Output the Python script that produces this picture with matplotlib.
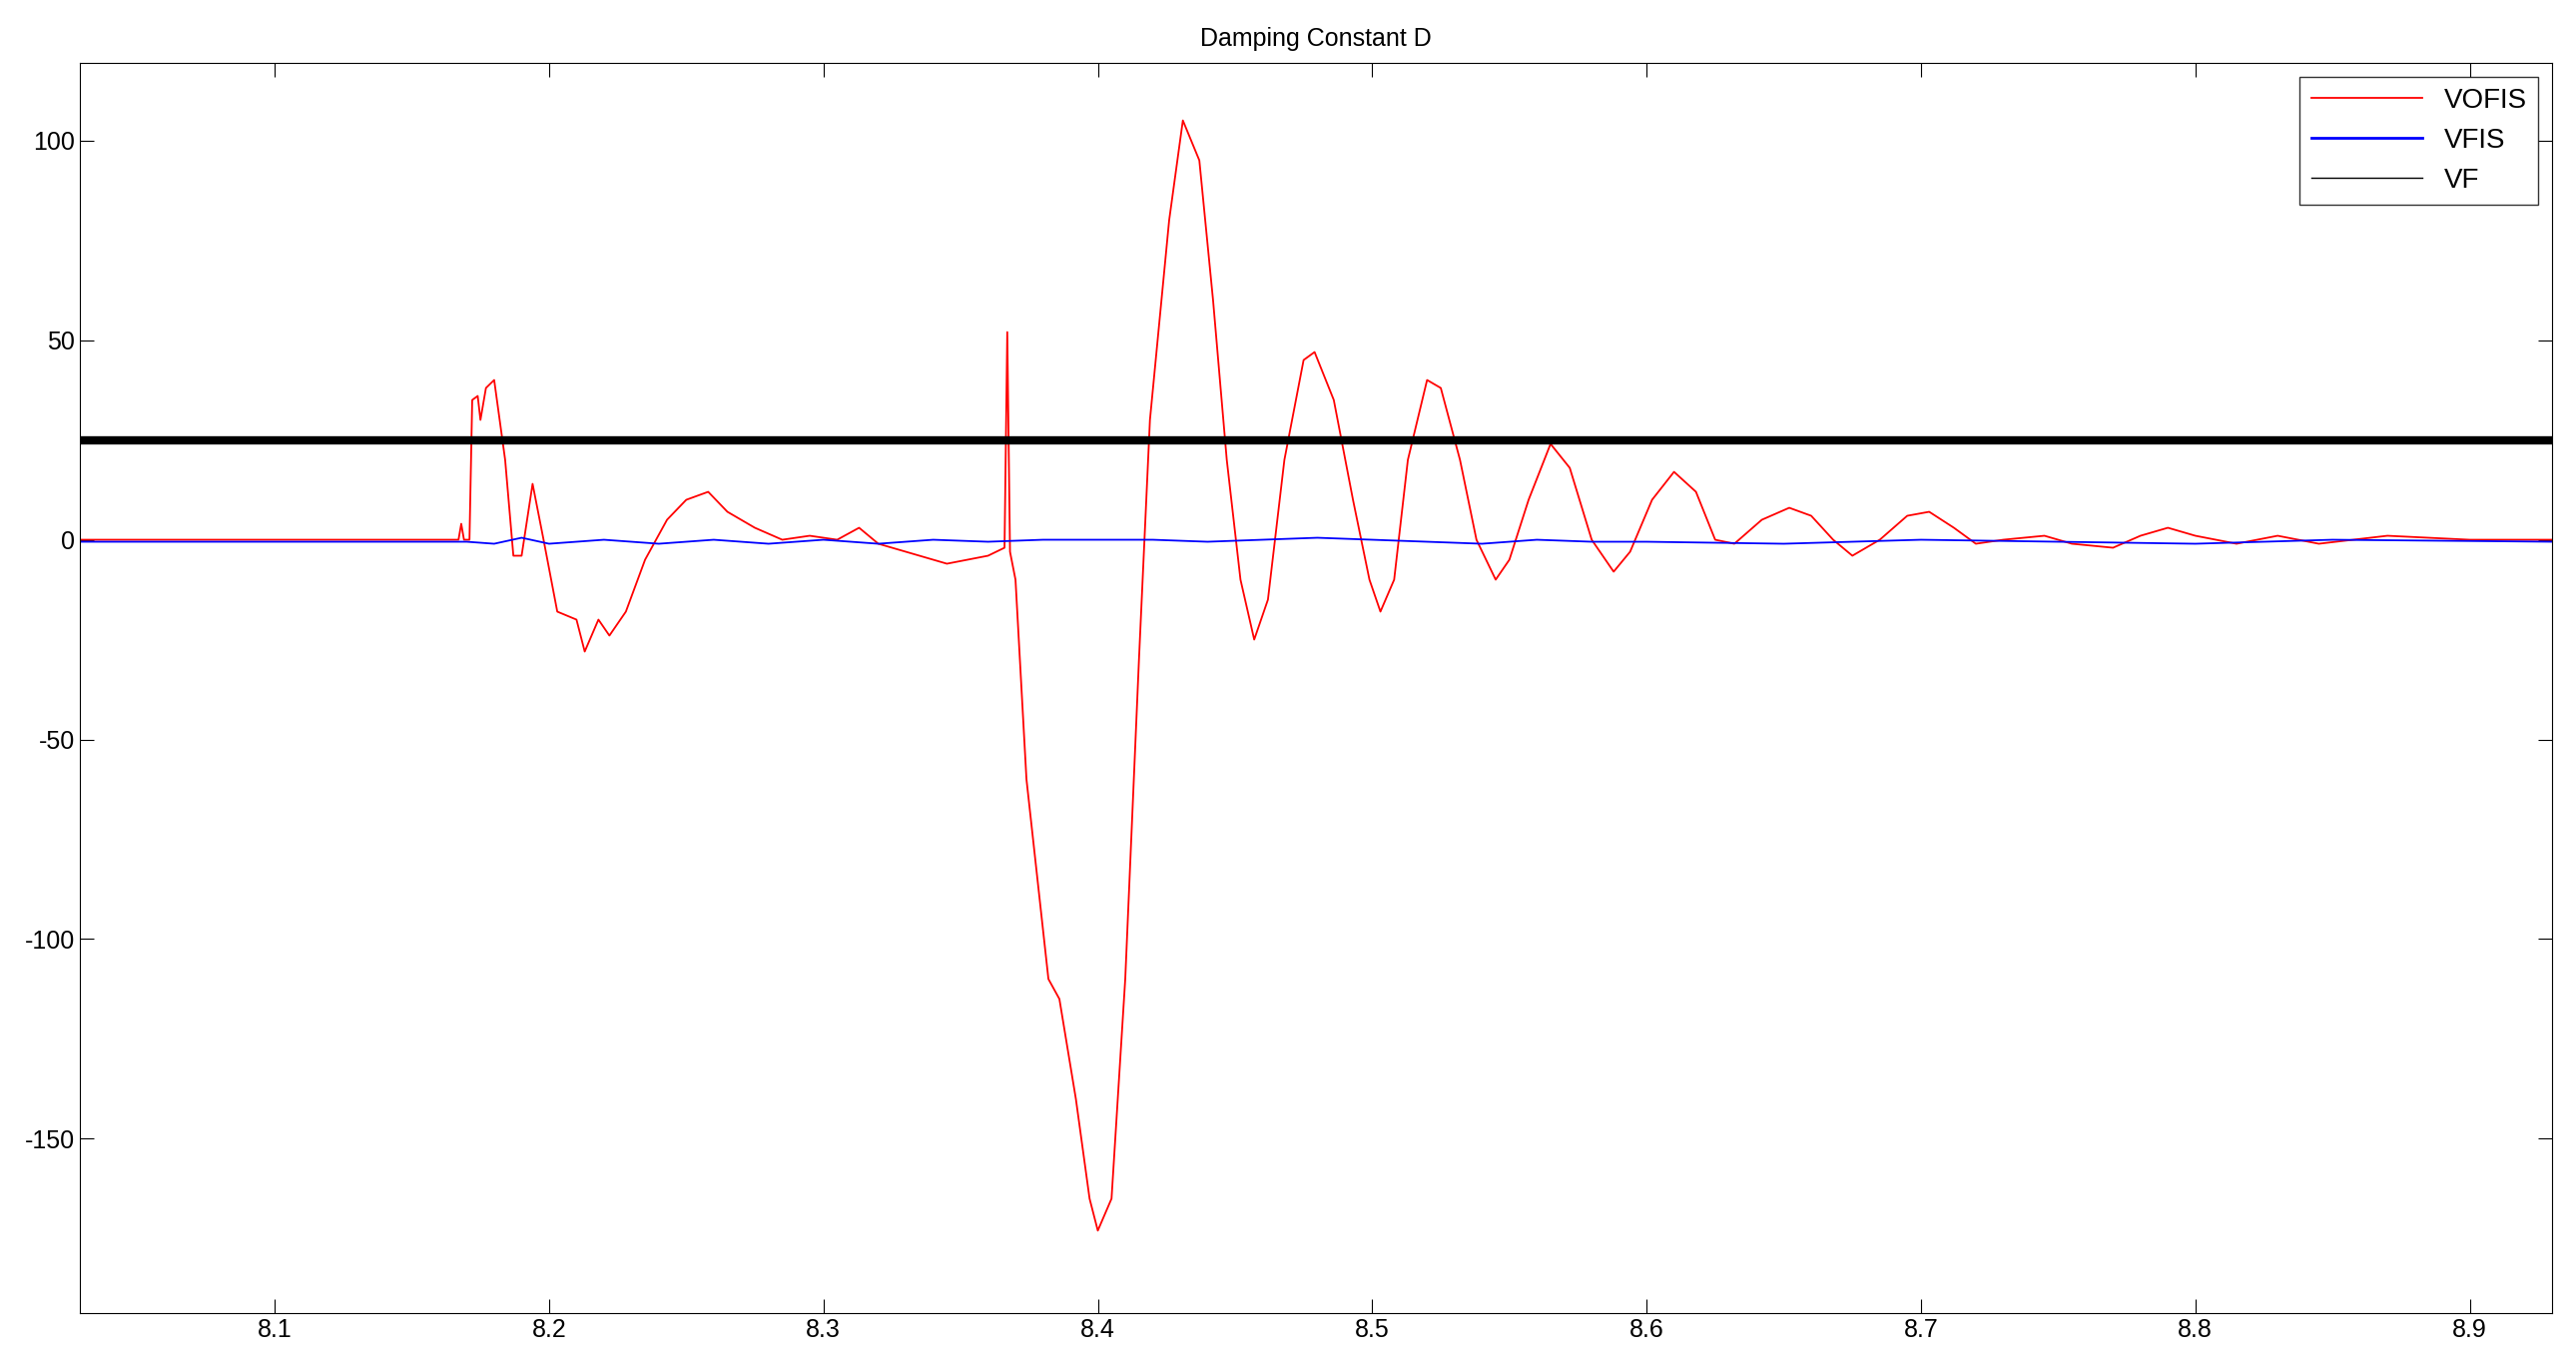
import matplotlib
matplotlib.use("Agg")
import matplotlib.pyplot as plt
from matplotlib.lines import Line2D

red_t = [8.029,8.167,8.168,8.169,8.171,8.172,8.174,8.175,8.177,8.180,8.184,8.187,8.190,8.194,8.198,8.203,8.210,8.213,8.218,8.222,8.228,8.235,8.243,8.250,8.258,8.265,8.275,8.285,8.295,8.305,8.313,8.320,8.335,8.345,8.360,8.366,8.367,8.368,8.370,8.374,8.382,8.386,8.392,8.397,8.400,8.405,8.410,8.415,8.419,8.426,8.431,8.437,8.442,8.447,8.452,8.457,8.462,8.468,8.475,8.479,8.486,8.493,8.499,8.503,8.508,8.513,8.520,8.525,8.532,8.538,8.545,8.550,8.557,8.565,8.572,8.580,8.588,8.594,8.602,8.610,8.618,8.625,8.632,8.642,8.652,8.660,8.668,8.675,8.685,8.695,8.703,8.712,8.720,8.730,8.745,8.755,8.770,8.780,8.790,8.800,8.815,8.830,8.845,8.870,8.900,8.930]
red_v = [0,0,4,0,0,35,36,30,38,40,20,-4,-4,14,0,-18,-20,-28,-20,-24,-18,-5,5,10,12,7,3,0,1,0,3,-1,-4,-6,-4,-2,52,-3,-10,-60,-110,-115,-140,-165,-173,-165,-110,-30,30,80,105,95,60,20,-10,-25,-15,20,45,47,35,10,-10,-18,-10,20,40,38,20,0,-10,-5,10,24,18,0,-8,-3,10,17,12,0,-1,5,8,6,0,-4,0,6,7,3,-1,0,1,-1,-2,1,3,1,-1,1,-1,1,0,0]
blue_t = [8.029,8.170,8.180,8.190,8.200,8.220,8.240,8.260,8.280,8.300,8.320,8.340,8.360,8.380,8.420,8.440,8.460,8.480,8.500,8.540,8.560,8.580,8.600,8.650,8.700,8.750,8.800,8.850,8.930]
blue_v = [-0.5,-0.5,-1,0.5,-1,0,-1,0,-1,0,-1,0,-0.5,0,0,-0.5,0,0.5,0,-1,0,-0.5,-0.5,-1,0,-0.5,-1,0,-0.5]
vf_level = 25
xticks = [8.1,8.2,8.3,8.4,8.5,8.6,8.7,8.8,8.9]
yticks = [-150,-100,-50,0,50,100]

plt.rcParams['font.family'] = ['Liberation Sans', 'DejaVu Sans']
plt.rcParams['axes.unicode_minus'] = False
fig = plt.figure(figsize=(25.8, 13.7), dpi=100)
ax = fig.add_axes([0.031, 0.04, 0.9597, 0.914])
ax.plot(red_t, red_v, color='red', lw=1.3)
ax.plot(blue_t, blue_v, color='blue', lw=1.3)
ax.axhline(vf_level, color='black', lw=6)
ax.set_xlim(8.029, 8.930)
ax.set_ylim(-193.7, 119.4)
ax.set_xticks(xticks)
ax.set_xticklabels([f"{v:g}" for v in xticks])
ax.set_yticks(yticks)
ax.tick_params(labelsize=18, direction='in', length=10, top=True, right=True)
ax.set_title("Damping Constant D", fontsize=18, pad=12)
handles = [Line2D([], [], color='red', lw=1.3), Line2D([], [], color='blue', lw=2), Line2D([], [], color='black', lw=1)]
leg = ax.legend(handles, ["VOFIS", "VFIS", "VF"], loc='upper right', fontsize=20, fancybox=False, edgecolor='black', handlelength=4)
leg.get_frame().set_linewidth(1)
fig.savefig("out.png")
